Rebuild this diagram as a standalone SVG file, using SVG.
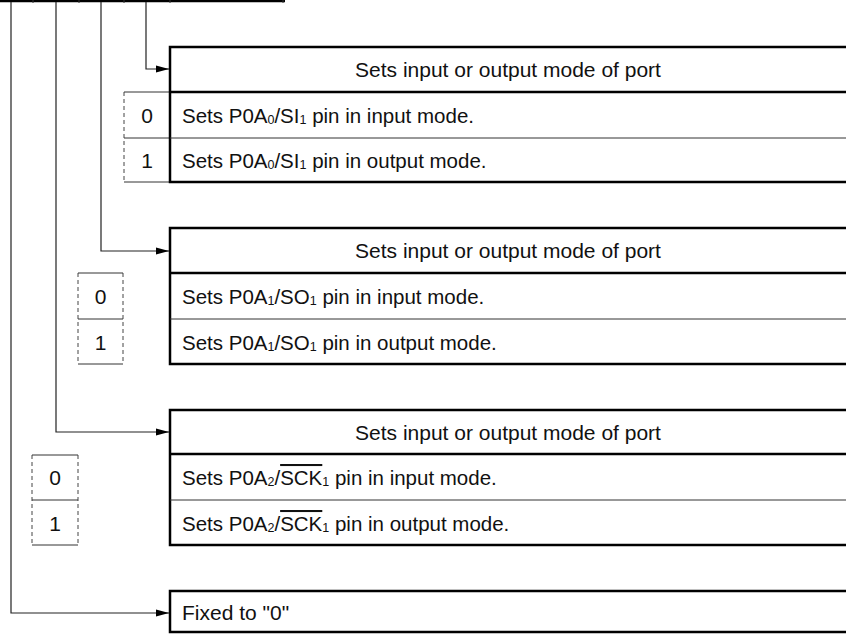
<svg xmlns="http://www.w3.org/2000/svg" width="846" height="634" viewBox="0 0 846 634">
<style>
text{font-family:"Liberation Sans",Arial,sans-serif;font-size:21px;fill:#111}
.c{text-anchor:middle}
.row{font-size:20.5px}
.box{fill:#fff;stroke:#000;stroke-width:2.5}
.thick{stroke:#000;stroke-width:2.5}
.thin{stroke:#333;stroke-width:1}
.dash{stroke:#444;stroke-width:1;stroke-dasharray:4 3;fill:none}
.wire{stroke:#222;stroke-width:1.2;fill:none}
.sub{font-size:12.5px}
</style>
<defs>
<marker id="arr" markerWidth="13" markerHeight="8" refX="13" refY="4" orient="auto" markerUnits="userSpaceOnUse">
<path d="M0,0.6 L13,4 L0,7.4 Z" fill="#000"/>
</marker>
</defs>

<g id="register">
<line x1="0" y1="1" x2="285" y2="1" stroke="#000" stroke-width="2.5"/>
<g class="thin">
<line x1="33" y1="0" x2="33" y2="3"/>
<line x1="79" y1="0" x2="79" y2="3"/>
<line x1="124" y1="0" x2="124" y2="3"/>
<line x1="170" y1="0" x2="170" y2="3"/>
<line x1="283" y1="0" x2="283" y2="3"/>
</g>
</g>

<g id="connectors">
<path class="wire" d="M146,2 V69 H169" marker-end="url(#arr)"/>
<path class="wire" d="M101,2 V251 H169" marker-end="url(#arr)"/>
<path class="wire" d="M56,2 V432 H169" marker-end="url(#arr)"/>
<path class="wire" d="M11,2 V613 H169" marker-end="url(#arr)"/>
</g>

<g id="bit0">
<line class="dash" x1="124" y1="92" x2="124" y2="182"/>
<line class="thin" x1="124" y1="92" x2="170" y2="92"/>
<line class="thin" x1="124" y1="138" x2="170" y2="138"/>
<line class="thin" x1="124" y1="182" x2="170" y2="182"/>
<rect class="box" x="170" y="47" width="690" height="135"/>
<line class="thick" x1="170" y1="92" x2="846" y2="92"/>
<line class="thin" x1="170" y1="138" x2="846" y2="138"/>
<text class="c" x="508" y="77">Sets input or output mode of port</text>
<text class="c" x="147" y="123">0</text>
<text class="c" x="147" y="168">1</text>
<text class="row" x="182" y="123">Sets P0A<tspan class="sub" dy="1">0</tspan><tspan dy="-1">/SI</tspan><tspan class="sub" dy="1">1</tspan><tspan dy="-1"> pin in input mode.</tspan></text>
<text class="row" x="182" y="168">Sets P0A<tspan class="sub" dy="1">0</tspan><tspan dy="-1">/SI</tspan><tspan class="sub" dy="1">1</tspan><tspan dy="-1"> pin in output mode.</tspan></text>
</g>

<g id="bit1">
<line class="dash" x1="78" y1="273" x2="78" y2="364"/>
<line class="dash" x1="123" y1="273" x2="123" y2="364"/>
<line class="thin" x1="78" y1="273" x2="123" y2="273"/>
<line class="thin" x1="78" y1="319" x2="123" y2="319"/>
<line class="thin" x1="78" y1="364" x2="123" y2="364"/>
<rect class="box" x="170" y="228" width="690" height="136"/>
<line class="thick" x1="170" y1="273" x2="846" y2="273"/>
<line class="thin" x1="170" y1="319" x2="846" y2="319"/>
<text class="c" x="508" y="258">Sets input or output mode of port</text>
<text class="c" x="100.5" y="304">0</text>
<text class="c" x="100.5" y="350">1</text>
<text class="row" x="182" y="304">Sets P0A<tspan class="sub" dy="1">1</tspan><tspan dy="-1">/SO</tspan><tspan class="sub" dy="1">1</tspan><tspan dy="-1"> pin in input mode.</tspan></text>
<text class="row" x="182" y="350">Sets P0A<tspan class="sub" dy="1">1</tspan><tspan dy="-1">/SO</tspan><tspan class="sub" dy="1">1</tspan><tspan dy="-1"> pin in output mode.</tspan></text>
</g>

<g id="bit2">
<line class="dash" x1="32" y1="455" x2="32" y2="545"/>
<line class="dash" x1="78" y1="455" x2="78" y2="545"/>
<line class="thin" x1="32" y1="455" x2="78" y2="455"/>
<line class="thin" x1="32" y1="500" x2="78" y2="500"/>
<line class="thin" x1="32" y1="545" x2="78" y2="545"/>
<rect class="box" x="170" y="410" width="690" height="135"/>
<line class="thick" x1="170" y1="454" x2="846" y2="454"/>
<line class="thin" x1="170" y1="500" x2="846" y2="500"/>
<text class="c" x="508" y="440">Sets input or output mode of port</text>
<text class="c" x="55" y="485">0</text>
<text class="c" x="55" y="531">1</text>
<text class="row" x="182" y="485">Sets P0A<tspan class="sub" dy="1">2</tspan><tspan dy="-1">/</tspan><tspan text-decoration="overline">SCK</tspan><tspan class="sub" dy="1">1</tspan><tspan dy="-1"> pin in input mode.</tspan></text>
<text class="row" x="182" y="531">Sets P0A<tspan class="sub" dy="1">2</tspan><tspan dy="-1">/</tspan><tspan text-decoration="overline">SCK</tspan><tspan class="sub" dy="1">1</tspan><tspan dy="-1"> pin in output mode.</tspan></text>
</g>

<g id="bit7">
<rect class="box" x="170" y="591" width="690" height="41"/>
<text x="182" y="620">Fixed to "0"</text>
</g>
</svg>
